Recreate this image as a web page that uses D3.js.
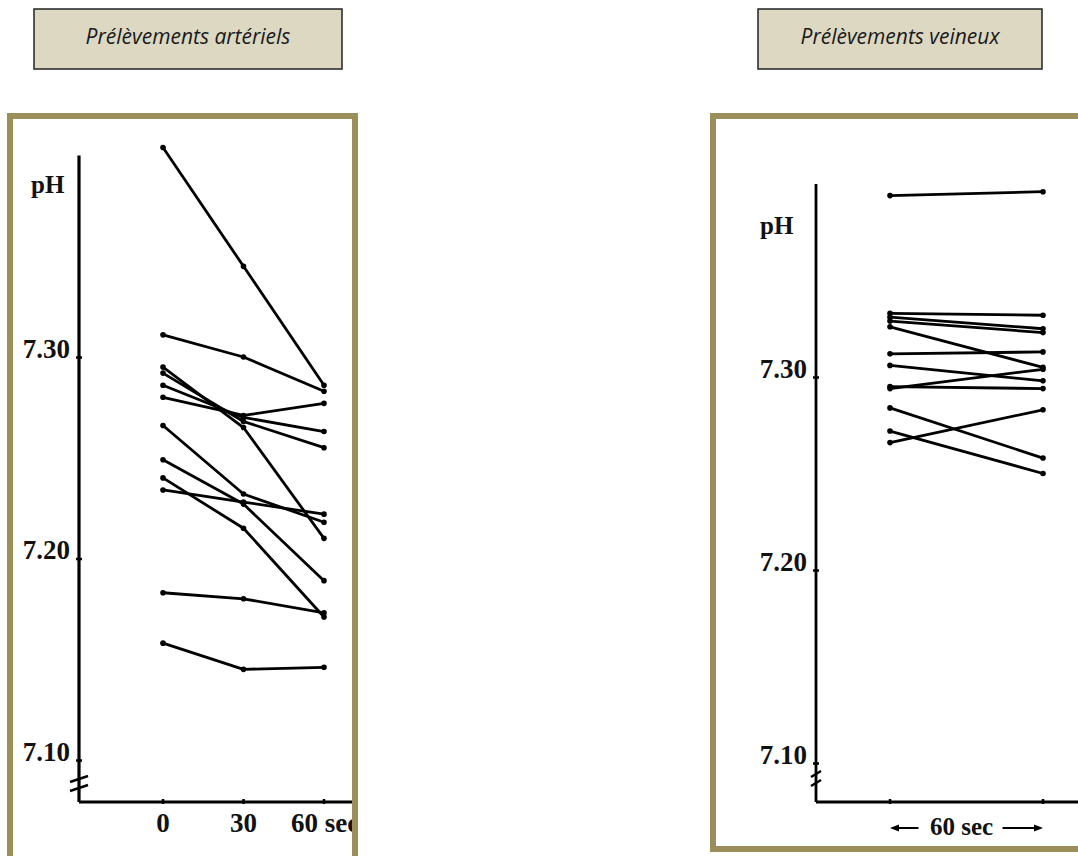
<!DOCTYPE html>
<html>
<head>
<meta charset="utf-8">
<script src="https://cdn.jsdelivr.net/npm/d3@7"></script>
<style>
  body { margin: 0; background: #fff; }
  svg { display: block; }
  .num { font-family: "Liberation Serif", "Times New Roman", serif; font-weight: bold; font-size: 27px; fill: #111; }
  .title { font-family: "Open Sans", sans-serif; font-style: italic; font-size: 21px; fill: #1a1a1a; }
</style>
</head>
<body>
<script>
// time points (sec)
var arterialTimes = [0, 30, 60]
var venousTimes = [0, 60]
var yTicks = [7.10, 7.20, 7.30]

// arterial pH, one row per patient : 0, 30, 60 sec
var arterialPH = [
    [7.404, 7.345, 7.286],
    [7.311, 7.300, 7.283],
    [7.295, 7.265, 7.210],
    [7.292, 7.268, 7.255],
    [7.286, 7.270, 7.263],
    [7.280, 7.271, 7.277],
    [7.266, 7.232, 7.218],
    [7.249, 7.227, 7.189],
    [7.240, 7.215, 7.171],
    [7.234, 7.228, 7.222],
    [7.183, 7.180, 7.173],
    [7.158, 7.145, 7.146]
]

// venous pH : 0, 60 sec
var venousPH = [
    [7.394, 7.396],
    [7.333, 7.332],
    [7.331, 7.325],
    [7.329, 7.323],
    [7.326, 7.305],
    [7.312, 7.313],
    [7.306, 7.298],
    [7.294, 7.304],
    [7.295, 7.294],
    [7.284, 7.258],
    [7.272, 7.250],
    [7.266, 7.283]
]

var titles = ["Prélèvements artériels", "Prélèvements veineux"]

var W = 1078, H = 856
var frameColor = "#9a8f5b"

var svg = d3.select("body").append("svg")
    .attr("width", W)
    .attr("height", H)

// title boxes
var boxes = [{x: 34, w: 308}, {x: 758, w: 284}]
boxes.forEach(function (b, i) {
    svg.append("rect")
        .attr("x", b.x).attr("y", 9)
        .attr("width", b.w).attr("height", 60)
        .attr("fill", "#dcd8c2")
        .attr("stroke", "#222")
        .attr("stroke-width", 1.5)
    svg.append("text")
        .attr("class", "title")
        .attr("x", b.x + b.w / 2)
        .attr("y", 44)
        .attr("text-anchor", "middle")
        .text(titles[i])
})

function panel(opts) {
    var g = svg.append("g")
    var id = "clip" + opts.name

    svg.append("clipPath").attr("id", id)
        .append("rect")
        .attr("x", opts.frame.x + 3).attr("y", opts.frame.y + 3)
        .attr("width", opts.frame.w - 6).attr("height", opts.frame.h - 6)

    var inner = g.append("g").attr("clip-path", "url(#" + id + ")")

    var x = d3.scaleLinear().domain([0, 60]).range(opts.xRange)
    var y = d3.scaleLinear().domain([7.10, 7.30]).range(opts.yRange)

    var axisX = opts.axisX
    var baseY = opts.baseY

    // y axis line (break near the bottom)
    inner.append("line")
        .attr("x1", axisX).attr("x2", axisX)
        .attr("y1", y(7.40)).attr("y2", baseY)
        .attr("stroke", "#000").attr("stroke-width", opts.axisW)

    // x axis line
    inner.append("line")
        .attr("x1", axisX).attr("x2", opts.frame.x + opts.frame.w + 40)
        .attr("y1", baseY).attr("y2", baseY)
        .attr("stroke", "#000").attr("stroke-width", opts.axisW)

    // axis break marks
    var bk = opts.breakY
    ;[0, 9].forEach(function (off) {
        inner.append("line")
            .attr("x1", axisX - opts.breakW).attr("y1", bk + off + 3)
            .attr("x2", axisX + opts.breakW).attr("y2", bk + off - 3)
            .attr("stroke", "#000").attr("stroke-width", 2.4)
    })

    var yAxis = d3.axisLeft(y)
        .tickValues(yTicks)
        .tickFormat(d3.format(".2f"))
        .tickSize(4)
        .tickPadding(5)

    var ya = inner.append("g")
        .attr("transform", "translate(" + axisX + ",0)")
        .call(yAxis)
    ya.select(".domain").remove()
    ya.selectAll(".tick line").attr("stroke", "#000").attr("stroke-width", 2.5).attr("x2", 3).attr("x1", -3)
    ya.selectAll(".tick text")
        .attr("class", "num")
        .attr("font-family", null).attr("font-size", null)
        .attr("dy", "0")
        .attr("fill", null)

    // pH label
    inner.append("text")
        .attr("class", "num")
        .style("font-size", "25px")
        .attr("x", opts.phPos[0]).attr("y", opts.phPos[1])
        .text("pH")

    // x ticks
    inner.selectAll(".xt").data(opts.times).enter().append("line")
        .attr("x1", d => x(d)).attr("x2", d => x(d))
        .attr("y1", baseY - 3).attr("y2", baseY + 2)
        .attr("stroke", "#000").attr("stroke-width", 2.5)

    // data lines
    var line = d3.line()
        .x((d, i) => x(opts.times[i]))
        .y(d => y(d))

    inner.selectAll(".serie").data(opts.data).enter()
        .append("path")
        .attr("d", line)
        .attr("fill", "none")
        .attr("stroke", "#000")
        .attr("stroke-width", 2.8)
        .attr("stroke-linejoin", "round")

    opts.data.forEach(function (row) {
        inner.selectAll(null).data(row).enter().append("circle")
            .attr("cx", (d, i) => x(opts.times[i]))
            .attr("cy", d => y(d))
            .attr("r", 2.8)
            .attr("fill", "#000")
    })

    opts.xLabels(inner, x, baseY)

    // frame
    g.append("rect")
        .attr("x", opts.frame.x).attr("y", opts.frame.y)
        .attr("width", opts.frame.w).attr("height", opts.frame.h)
        .attr("fill", "none")
        .attr("stroke", frameColor)
        .attr("stroke-width", 6)
}

panel({
    name: "art",
    frame: {x: 10, y: 116, w: 345, h: 800},
    xRange: [163, 324],
    yRange: [760, 357],
    axisX: 79,
    baseY: 802,
    axisW: 3.2,
    breakY: 779,
    breakW: 9,
    phPos: [31, 193],
    times: arterialTimes,
    data: arterialPH,
    xLabels: function (g, x, baseY) {
        g.selectAll(".xl").data(arterialTimes).enter().append("text")
            .attr("class", "num")
            .attr("x", d => d === 60 ? x(d) - 33 : x(d))
            .attr("y", baseY + 30)
            .attr("text-anchor", d => d === 60 ? "start" : "middle")
            .text(d => d === 60 ? "60 sec" : d)
    }
})

panel({
    name: "ven",
    frame: {x: 713, y: 116, w: 420, h: 733},
    xRange: [890, 1043],
    yRange: [763, 377],
    axisX: 816,
    baseY: 802,
    axisW: 2.8,
    breakY: 774,
    breakW: 5,
    phPos: [760, 234],
    times: venousTimes,
    data: venousPH,
    xLabels: function (g, x, baseY) {
        var cx = (x(0) + x(60)) / 2 - 5
        var ay = baseY + 26
        g.append("text")
            .attr("class", "num")
            .style("font-size", "25px")
            .attr("x", cx).attr("y", baseY + 33)
            .attr("text-anchor", "middle")
            .text("60 sec")
        // arrows
        g.append("line").attr("x1", x(0) + 4).attr("x2", cx - 43)
            .attr("y1", ay).attr("y2", ay)
            .attr("stroke", "#000").attr("stroke-width", 2)
        g.append("line").attr("x1", cx + 41).attr("x2", x(60) - 4)
            .attr("y1", ay).attr("y2", ay)
            .attr("stroke", "#000").attr("stroke-width", 2)
        g.append("path")
            .attr("d", "M" + (x(0)) + "," + ay + "l9,-3.5l0,7z")
            .attr("fill", "#000")
        g.append("path")
            .attr("d", "M" + (x(60)) + "," + ay + "l-9,-3.5l0,7z")
            .attr("fill", "#000")
    }
})
</script>
</body>
</html>
